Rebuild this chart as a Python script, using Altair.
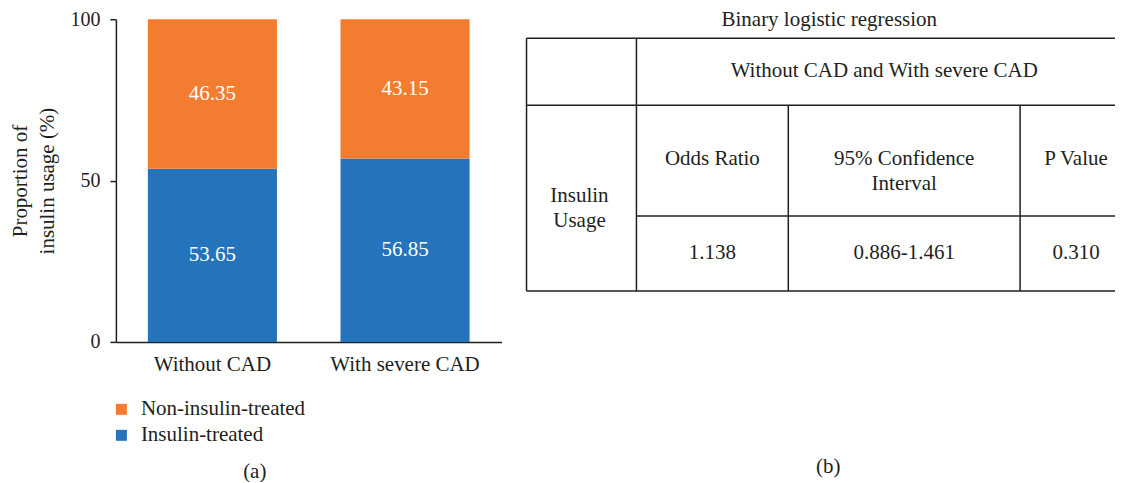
import altair as alt
import pandas as pd

# ---------------- data ----------------
groups = ["Without CAD", "With severe CAD"]
series = ["Non-insulin-treated", "Insulin-treated"]
insulin_treated = [53.65, 56.85]
non_insulin_treated = [46.35, 43.15]
y_ticks = [0, 50, 100]

table_title = "Binary logistic regression"
table_header = "Without CAD and With severe CAD"
row_label = "Insulin\nUsage"
col_heads = ["Odds Ratio", "95% Confidence\nInterval", "P Value"]
col_values = ["1.138", "0.886-1.461", "0.310"]
captions = ["(a)", "(b)"]

# ---------------- style ----------------
FONT = "Liberation Serif"
INK = "#231F20"
COLORS = ["#F47C30", "#2473BB"]
FS = 21

# ---------------- panel (a): stacked bars ----------------
rows = []
for g, a, b in zip(groups, insulin_treated, non_insulin_treated):
    rows.append({"group": g, "series": "Insulin-treated", "value": a, "order": 0})
    rows.append({"group": g, "series": "Non-insulin-treated", "value": b, "order": 1})
bars_df = pd.DataFrame(rows)

base = (
    alt.Chart(bars_df)
    .transform_stack(
        stack="value",
        as_=["v0", "v1"],
        groupby=["group"],
        sort=[alt.SortField("order", order="ascending")],
    )
    .transform_calculate(mid="(datum.v0 + datum.v1) / 2")
)

x_enc = alt.X(
    "group:N",
    sort=groups,
    scale=alt.Scale(paddingInner=0.33, paddingOuter=0.166),
    axis=alt.Axis(
        title=None, labelAngle=0, ticks=False, labelPadding=12,
        labelFontSize=FS, labelFont=FONT, labelColor=INK,
        domainColor=INK, domainWidth=1.5, grid=False,
    ),
)
y_scale = alt.Scale(domain=[0, 100], nice=False)

bars = base.mark_bar().encode(
    x=x_enc,
    y=alt.Y(
        "v0:Q",
        scale=y_scale,
        axis=alt.Axis(
            values=y_ticks, grid=False, tickSize=6, tickColor=INK, tickWidth=1.5,
            domainColor=INK, domainWidth=1.5,
            labelFontSize=20, labelFont=FONT, labelColor=INK, labelPadding=10,
            title=["Proportion of", "insulin usage (%)"],
            titleFontSize=FS, titleFont=FONT, titleFontWeight="normal",
            titleColor=INK, titleLineHeight=27, titlePadding=12,
        ),
    ),
    y2="v1:Q",
    color=alt.Color(
        "series:N",
        scale=alt.Scale(domain=series, range=COLORS),
        legend=alt.Legend(
            title=None, orient="none", legendX=-5, legendY=380,
            direction="vertical", symbolType="square", symbolSize=121,
            symbolStrokeWidth=0, labelFontSize=FS, labelFont=FONT,
            labelColor=INK, labelOffset=9, rowPadding=4, labelLimit=400,
        ),
    ),
)

labels = base.mark_text(color="white", fontSize=FS, font=FONT).encode(
    x=alt.X("group:N", sort=groups),
    y=alt.Y("mid:Q", scale=y_scale),
    text=alt.Text("value:Q", format=".2f"),
)

left = alt.layer(bars, labels).properties(
    width=386,
    height=323,
    title=alt.TitleParams(
        captions[0], orient="bottom", anchor="middle", fontSize=FS,
        font=FONT, fontWeight="normal", color=INK, offset=86, dx=-54,
    ),
)

# ---------------- panel (b): table ----------------
# table layout (units = pixels from the table's top-left corner)
col_edges = [0, 110, 262, 494, 589]
row_edges = [0, 67, 178, 253]

segments = [
    # horizontal lines
    (col_edges[0], col_edges[4], row_edges[0], row_edges[0]),
    (col_edges[0], col_edges[4], row_edges[1], row_edges[1]),
    (col_edges[1], col_edges[4], row_edges[2], row_edges[2]),
    (col_edges[0], col_edges[4], row_edges[3], row_edges[3]),
    # vertical lines
    (col_edges[0], col_edges[0], row_edges[0], row_edges[3]),
    (col_edges[1], col_edges[1], row_edges[0], row_edges[3]),
    (col_edges[2], col_edges[2], row_edges[1], row_edges[3]),
    (col_edges[3], col_edges[3], row_edges[1], row_edges[3]),
]
rule_df = pd.DataFrame(segments, columns=["x", "x2", "y", "y2"])

col_centers = [186, 378, 550]
text_rows = [
    {"x": 303, "y": -18.5, "text": table_title},
    {"x": 358, "y": 33, "text": table_header},
    {"x": 53, "y": 158, "text": row_label},
    {"x": 302, "y": 429, "text": captions[1]},
]
for cx, h, v in zip(col_centers, col_heads, col_values):
    text_rows.append({"x": cx, "y": 121, "text": h})
    text_rows.append({"x": cx, "y": 215, "text": v})
text_df = pd.DataFrame(text_rows)

tx = alt.Scale(domain=[0, 589], nice=False, zero=False)
ty = alt.Scale(domain=[-19, 438], reverse=True, nice=False, zero=False)

rules = alt.Chart(rule_df).mark_rule(color=INK, strokeWidth=1.5).encode(
    x=alt.X("x:Q", scale=tx, axis=None),
    x2="x2:Q",
    y=alt.Y("y:Q", scale=ty, axis=None),
    y2="y2:Q",
)
texts = alt.Chart(text_df).mark_text(
    fontSize=FS, font=FONT, color=INK, lineBreak="\n", lineHeight=25
).encode(
    x=alt.X("x:Q", scale=tx, axis=None),
    y=alt.Y("y:Q", scale=ty, axis=None),
    text="text:N",
)
right = alt.layer(rules, texts).properties(width=589, height=457)

chart = (
    alt.hconcat(left, right, spacing=24)
    .properties(
        padding={"left": 2, "top": 0, "right": 0, "bottom": 0},
        background="white",
    )
    .configure(font=FONT)
    .configure_text(font=FONT)
    .configure_legend(labelFont=FONT)
    .configure_view(stroke=None)
)

chart.save("out.html", embed_options={"renderer": "svg", "actions": False})
